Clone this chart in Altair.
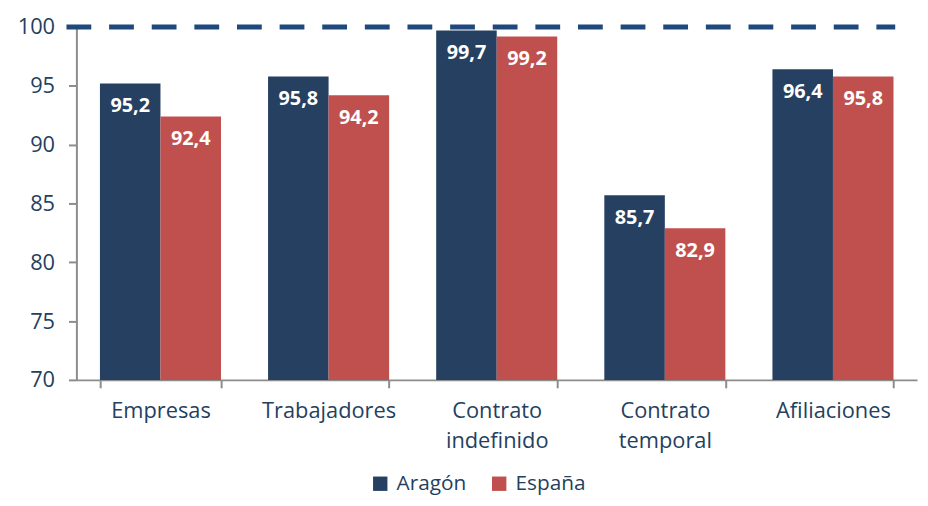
import altair as alt
import pandas as pd

categories = ["Empresas", "Trabajadores", "Contrato indefinido", "Contrato temporal", "Afiliaciones"]
aragon = [95.2, 95.8, 99.7, 85.7, 96.4]
espana = [92.4, 94.2, 99.2, 82.9, 95.8]
series = ["Aragón", "España"]
colors = ["#264061", "#C0504D"]
y_ticks = [70, 75, 80, 85, 90, 95, 100]
reference = [100]

rows = []
for c, a, e in zip(categories, aragon, espana):
    rows.append({"cat": c, "serie": series[0], "valor": a})
    rows.append({"cat": c, "serie": series[1], "valor": e})
df = pd.DataFrame(rows)
df["etiqueta"] = df["valor"].map(lambda v: f"{v:.1f}".replace(".", ","))

FONT = "Open Sans"
TXT = "#243F60"
GRAY = "#8C8C8C"

x_enc = alt.X(
    "cat:N",
    sort=categories,
    title=None,
    scale=alt.Scale(paddingInner=0.28, paddingOuter=0.14),
    axis=alt.Axis(
        labelAngle=0,
        tickBand="extent",
        labelExpr="indexof(datum.label, ' ') > 0 ? split(datum.label, ' ') : datum.label",
        labelFont=FONT,
        labelFontSize=22,
        labelColor=TXT,
        labelLineHeight=30,
        labelPadding=13,
        tickSize=8,
        tickColor=GRAY,
        tickWidth=2,
        domainColor=GRAY,
        domainWidth=2,
        labelBaseline="top",
    ),
)
y_scale = alt.Scale(domain=[70, 100], zero=False, nice=False)
y_axis = alt.Axis(
    values=y_ticks,
    title=None,
    grid=False,
    labelFont=FONT,
    labelFontSize=22,
    labelColor=TXT,
    labelPadding=14,
    tickSize=8,
    tickColor=GRAY,
    tickWidth=2,
    domainColor=GRAY,
    domainWidth=2,
)
xoff = alt.XOffset("serie:N", sort=series, scale=alt.Scale(paddingInner=0, paddingOuter=0))
color = alt.Color(
    "serie:N",
    sort=series,
    scale=alt.Scale(domain=series, range=colors),
    legend=alt.Legend(
        title=None,
        orient="none",
        direction="horizontal",
        legendX=296,
        legendY=450,
        symbolType="square",
        symbolSize=210,
        symbolStrokeWidth=0,
        labelFont=FONT,
        labelFontSize=21,
        labelColor=TXT,
        columnPadding=22,
        labelOffset=6,
    ),
)

base = alt.Chart(df)
bars = base.mark_bar().encode(
    x=x_enc,
    xOffset=xoff,
    y=alt.Y("valor:Q", scale=y_scale, axis=y_axis),
    y2=alt.datum(70),
    color=color,
)
labels = base.mark_text(
    color="white", fontWeight="bold", fontSize=20, font=FONT, baseline="middle", dy=23
).encode(
    x=alt.X("cat:N", sort=categories),
    xOffset=xoff,
    y=alt.Y("valor:Q"),
    text="etiqueta:N",
)

ref_df = pd.DataFrame({"ref": reference})
dash = alt.Chart(ref_df).mark_rule(
    strokeDash=[25, 18], strokeWidth=5, color="#1F497D"
).encode(y=alt.Y("ref:Q"), x=alt.value(-10), x2=alt.value(826))

chart = (
    alt.layer(bars, labels, dash)
    .properties(
        width=848,
        height=356,
        background="white",
        autosize=alt.AutoSizeParams(type="none"),
        padding={"left": 69, "top": 17, "right": 3, "bottom": 117},
    )
    .configure_view(stroke="transparent", strokeWidth=0)
)

chart.save("out.html", embed_options={"renderer": "svg", "actions": False})
